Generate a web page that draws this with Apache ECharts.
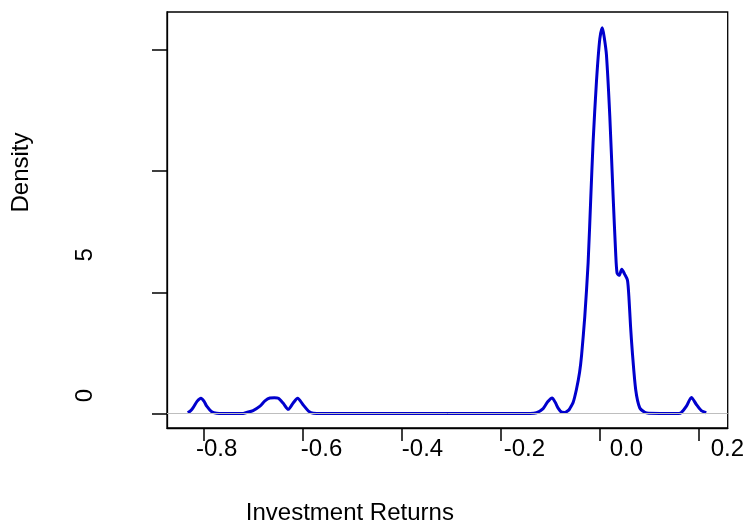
<!DOCTYPE html>
<html>
<head>
<meta charset="utf-8">
<script src="https://cdn.jsdelivr.net/npm/echarts@6/dist/echarts.min.js"></script>
<style>
  html, body { margin: 0; padding: 0; background: #fff; }
  #chart { width: 747px; height: 530px; }
</style>
</head>
<body>
<div id="chart"></div>
<script>
// Kernel density estimate of investment returns
const returns = [
  -0.832, -0.826, -0.8208, -0.8133, -0.8053, -0.799, -0.7937, -0.7836, -0.7735, -0.76,
  -0.72, -0.713, -0.700, -0.686, -0.676, -0.666, -0.657, -0.649, -0.639, -0.629,
  -0.619, -0.610, -0.599, -0.588, -0.578, -0.56,
  -0.14, -0.127, -0.1137, -0.1045, -0.0956, -0.089, -0.0834, -0.076, -0.0699, -0.063,
  -0.0598, -0.0531, -0.0463, -0.040, -0.036, -0.0295, -0.0228, -0.0174, -0.0127, -0.0059,
  0.0008, 0.006, 0.010, 0.0143, 0.021, 0.0277, 0.033, 0.0357, 0.040, 0.0453,
  0.051, 0.0568, 0.060, 0.063, 0.0669, 0.0735, 0.0816, 0.0917, 0.100, 0.160,
  0.165, 0.176, 0.186, 0.196, 0.206, 0.216
];
const density = [
  0.03, 0.12, 0.25, 0.50, 0.63, 0.50, 0.30, 0.07, 0.01, 0.00,
  0.00, 0.04, 0.12, 0.30, 0.52, 0.64, 0.65, 0.63, 0.42, 0.17,
  0.43, 0.63, 0.36, 0.10, 0.01, 0.00,
  0.00, 0.03, 0.20, 0.48, 0.64, 0.45, 0.22, 0.05, 0.04, 0.12,
  0.20, 0.45, 1.00, 1.70, 2.40, 4.00, 6.20, 8.90, 11.20, 13.70,
  15.45, 15.92, 15.50, 14.80, 12.30, 9.00, 6.60, 5.80, 5.70, 5.95,
  5.75, 5.50, 4.70, 3.60, 2.46, 0.97, 0.23, 0.05, 0.01, 0.00,
  0.02, 0.30, 0.66, 0.37, 0.12, 0.03
];

const xTickValues = [-0.8, -0.6, -0.4, -0.2, 0.0, 0.2];
const xTickLabels = ['-0.8', '-0.6', '-0.4', '-0.2', '0.0', '0.2'];
const yTickValues = [0, 5, 10, 15];
const yTickLabels = ['0', '5', '', ''];

const FONT = 'Liberation Sans, Arial, Helvetica, sans-serif';
const baseText = { fontFamily: FONT, fontSize: 24, color: '#000' };

// per-label nudges for the tick text
const xLabelPad = [26, 38, 42, 48, 54, 58];
const yLabelPad = [36, 75, 0, 0];

const xRich = {};
xLabelPad.forEach((p, i) => { xRich['x' + i] = Object.assign({ padding: [0, 0, 0, p] }, baseText); });
const yRich = {};
yLabelPad.forEach((p, i) => { yRich['y' + i] = Object.assign({ padding: [0, 0, 0, p] }, baseText); });

function indexOfTick(list, v) {
  for (let i = 0; i < list.length; i++) if (Math.abs(list[i] - v) < 1e-9) return i;
  return -1;
}

const curve = returns.map((r, i) => [r, density[i]]);

const chart = echarts.init(document.getElementById('chart'), null, { renderer: 'canvas' });
chart.setOption({
  animation: false,
  backgroundColor: '#fff',
  grid: {
    left: 167, right: 19, top: 12, bottom: 95,
    show: true, borderColor: '#000', borderWidth: 1.3, backgroundColor: 'transparent'
  },
  xAxis: {
    type: 'value',
    min: -0.874, max: 0.2594,
    name: '{t|Investment Returns}',
    nameLocation: 'middle',
    nameGap: 73,
    nameTextStyle: {
      rich: { t: Object.assign({ padding: [0, 195, 0, 0] }, baseText) }
    },
    axisLine: { show: true, onZero: false, lineStyle: { color: '#000', width: 1.3 } },
    axisTick: {
      show: true, length: 13, customValues: xTickValues,
      lineStyle: { color: '#000', width: 1.5 }
    },
    axisLabel: {
      show: true, margin: 9, customValues: xTickValues,
      formatter: v => {
        const i = indexOfTick(xTickValues, v);
        return i < 0 ? '' : '{x' + i + '|' + xTickLabels[i] + '}';
      },
      rich: xRich
    },
    splitLine: { show: false }
  },
  yAxis: {
    type: 'value',
    min: -0.6, max: 16.57,
    name: '{d|Density}',
    nameLocation: 'middle',
    nameRotate: 90,
    nameGap: 134,
    nameTextStyle: {
      rich: { d: Object.assign({ padding: [0, 0, 0, 95] }, baseText) }
    },
    axisLine: { show: true, onZero: false, lineStyle: { color: '#000', width: 1.3 } },
    axisTick: {
      show: true, length: 15, customValues: yTickValues,
      lineStyle: { color: '#000', width: 1.5 }
    },
    axisLabel: {
      show: true, rotate: 90, margin: 70, customValues: yTickValues,
      formatter: v => {
        const i = indexOfTick(yTickValues, v);
        return (i < 0 || !yTickLabels[i]) ? '' : '{y' + i + '|' + yTickLabels[i] + '}';
      },
      rich: yRich
    },
    splitLine: { show: false }
  },
  series: [
    {
      // zero reference line
      type: 'line',
      data: [],
      z: 1,
      silent: true,
      markLine: {
        silent: true,
        symbol: ['none', 'none'],
        label: { show: false },
        lineStyle: { color: '#BEBEBE', width: 1, type: 'solid' },
        data: [{ yAxis: 0 }],
        animation: false
      }
    },
    {
      type: 'line',
      data: curve,
      z: 3,
      showSymbol: false,
      symbol: 'none',
      smooth: 0.25,
      lineStyle: { color: '#0000CD', width: 3 },
      clip: true
    }
  ]
});
</script>
</body>
</html>
